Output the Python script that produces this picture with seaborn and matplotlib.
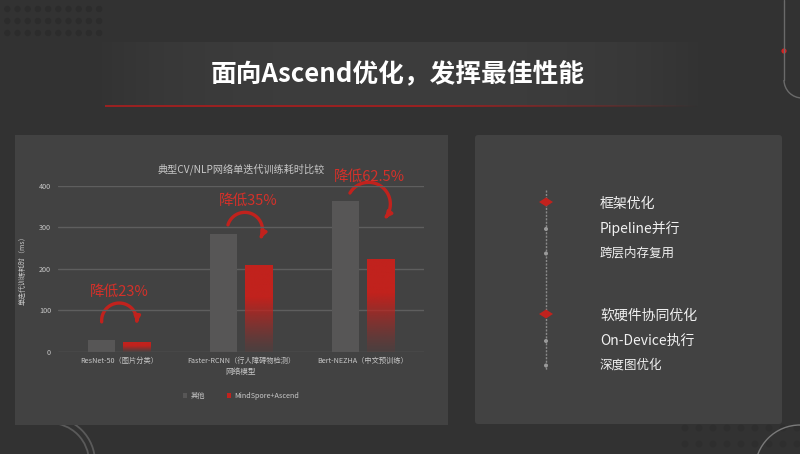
import numpy as np
import pandas as pd
import matplotlib.pyplot as plt
import seaborn as sns
from matplotlib.patches import Rectangle, FancyBboxPatch, Polygon, Circle, Arc, FancyArrowPatch
from matplotlib.path import Path

sns.set_theme(style="dark")
plt.rcParams['font.family'] = ['Noto Sans CJK SC', 'DejaVu Sans']
plt.rcParams['axes.unicode_minus'] = False

# data
models = ["ResNet-50（图片分类）", "Faster-RCNN（行人障碍物检测）", "Bert-NEZHA（中文预训练）"]
series = ["其他", "MindSpore+Ascend"]
other_ms = [28, 285, 364]
ascend_ms = [22, 208, 224]
cuts = ["降低23%", "降低35%", "降低62.5%"]
yticks = [0, 100, 200, 300, 400]

# right panel bullet list
groups = ["框架优化", "软硬件协同优化"]
items = [["Pipeline并行", "跨层内存复用"], ["On-Device执行", "深度图优化"]]

SLIDE = "#323232"
PANEL = "#424242"
GRAY = "#575656"
RED = "#c1221d"
TXT = "#c8c8c8"

fig = plt.figure(figsize=(8, 4.54), dpi=100)
fig.patch.set_facecolor(SLIDE)

# background layer in pixel coords
bg = fig.add_axes([0, 0, 1, 1])
bg.set_xlim(0, 800)
bg.set_ylim(454, 0)
bg.axis("off")

# dot decorations
for r in range(3):
    for c in range(10):
        bg.add_patch(Circle((7.3 + c * 10.2, 9 + r * 12), 3.2, color="#2c2c2c", lw=0))
for r in range(2):
    for c in range(9):
        bg.add_patch(Circle((685 + c * 14, 428 + r * 16), 3.5, color="#2e2e2e", lw=0))

# arcs / lines around the edges
bg.add_patch(Arc((50, 462), 78, 78, theta1=270, theta2=360, color="#5a5a5a", lw=1.3))
bg.add_patch(Arc((50, 462), 90, 90, theta1=270, theta2=360, color="#5a5a5a", lw=1.3))
bg.add_patch(Arc((800, 470), 90, 90, theta1=180, theta2=270, color="#7a7a7a", lw=1.0))
bg.plot([784, 784], [0, 80], color="#6a6a6a", lw=1.0)
bg.add_patch(Arc((802, 80), 36, 36, theta1=90, theta2=180, color="#6a6a6a", lw=1.0))
bg.add_patch(Circle((784, 51), 2.6, color="#d42020", lw=0))

# title banner
band = np.ones((1, 200, 4))
band[..., :3] = np.array([0.27, 0.27, 0.27])
xs = np.linspace(-1, 1, 200)
band[0, :, 3] = np.clip(1 - np.abs(xs) ** 3, 0, 1) * 0.6
bg.imshow(band, extent=(90, 710, 106, 42), aspect="auto", zorder=1)
line = np.ones((1, 200, 4))
line[..., :3] = np.array([0.60, 0.13, 0.13])
line[0, :, 3] = np.clip((1 - np.linspace(0, 1, 200)) * 2.2, 0, 1)
bg.imshow(line, extent=(105, 700, 107.5, 105.5), aspect="auto", zorder=2)
bg.text(398, 74, "面向Ascend优化，发挥最佳性能", color="white", fontsize=18.5,
        fontweight="bold", ha="center", va="center", zorder=3)

# panels
bg.add_patch(Rectangle((15, 135), 432.7, 290, color=PANEL, lw=0, zorder=1))
bg.add_patch(FancyBboxPatch((475, 135), 307, 289, boxstyle="round,pad=0,rounding_size=3",
                            color=PANEL, lw=0, zorder=1))

# right panel timeline
bg.plot([546, 546], [190, 370], color="#8a8a8a", lw=1.0, ls=(0, (1.5, 1)), zorder=2)
y = 204
for g, subs in zip(groups, items):
    bg.add_patch(Polygon([(539, y - 2), (546, y - 6.5), (553, y - 2), (546, y + 2.5)],
                         closed=True, color=RED, lw=0, zorder=3))
    bg.text(600, y, g, color="#f0f0f0", fontsize=10, va="center", ha="left", zorder=3)
    for k, s in enumerate(subs):
        yy = y + 25 + k * 24.5
        bg.add_patch(Circle((546, yy), 2.0, color="#9a9a9a", lw=0, zorder=3))
        bg.text(600, yy, s, color="#f0f0f0", fontsize=10 if k == 0 else 9,
                va="center", ha="left", zorder=3)
    y += 112

# chart
df = pd.DataFrame({
    "model": models * 2,
    "series": [series[0]] * 3 + [series[1]] * 3,
    "time": other_ms + ascend_ms,
})

ax = fig.add_axes([58 / 800, (454 - 351.7) / 454, 366 / 800, (351.7 - 186) / 454])
ax.set_facecolor("none")
sns.barplot(data=df, x="model", y="time", hue="series", palette=[GRAY, RED],
            width=0.57, gap=0.22, saturation=1, linewidth=0, edgecolor="none",
            ax=ax, zorder=2)

# red bars fade out toward the baseline
for bar in ax.containers[1]:
    x0, w, h = bar.get_x(), bar.get_width(), bar.get_height()
    grad = np.ones((100, 1, 4))
    grad[..., :3] = np.array([0xc1, 0x22, 0x1d]) / 255
    t = np.linspace(1, 0, 100)
    grad[:, 0, 3] = np.clip(0.08 + 1.6 * t ** 1.2, 0, 1)
    ax.imshow(grad, extent=(x0, x0 + w, 0, h), aspect="auto", zorder=3)
    bar.set_alpha(0)

ax.set_xlim(-0.5, 2.5)
ax.set_ylim(0, 400)
ax.set_yticks(yticks)
ax.set_yticklabels([str(v) for v in yticks])
ax.set_axisbelow(True)
ax.yaxis.grid(True, color="#5e5e5e", lw=1.0)
ax.xaxis.grid(False)
for s in ax.spines.values():
    s.set_visible(False)
ax.tick_params(axis="both", length=0, labelsize=5.2, labelcolor=TXT)
ax.tick_params(axis="y", pad=5)
ax.tick_params(axis="x", pad=4)
ax.set_xlabel("网络模型", fontsize=5.5, color=TXT, labelpad=2)
ax.set_ylabel("单迭代训练耗时（ms）", fontsize=5, color=TXT, labelpad=9)
ax.set_title("典型CV/NLP网络单迭代训练耗时比较", fontsize=7.3, color=TXT, pad=10)

ax.legend(loc="center", bbox_to_anchor=(0.5, -0.267), ncol=2, frameon=False,
          fontsize=5.2, labelcolor=TXT, handlelength=0.6, handleheight=0.6,
          handletextpad=0.5, columnspacing=3)


def to_px(pt):
    # chart data coords -> background pixel coords
    disp = ax.transData.transform(pt)
    return bg.transData.inverted().transform(disp)


def arc_path(p0, p1, bulge=0.55, n=40):
    # circular arc from p0 to p1 bowing upwards (pixel coords, y down)
    p0, p1 = np.asarray(p0), np.asarray(p1)
    d = p1 - p0
    c = np.hypot(*d)
    nrm = np.array([d[1], -d[0]]) / c
    s = bulge * c
    R = (c * c / 4 + s * s) / (2 * s)
    mid = (p0 + p1) / 2
    ctr = mid + nrm * (s - R)
    peak = mid + nrm * s
    a0 = np.arctan2(*(p0 - ctr)[::-1])
    a1 = np.arctan2(*(p1 - ctr)[::-1])
    ap = np.arctan2(*(peak - ctr)[::-1])
    # choose the direction that passes the peak
    da = (a1 - a0) % (2 * np.pi)
    dp = (ap - a0) % (2 * np.pi)
    if dp > da:
        da -= 2 * np.pi
    ang = a0 + np.linspace(0, da, n)
    return ctr[0] + R * np.cos(ang), ctr[1] + R * np.sin(ang)


# reduction callouts
label_xy = [(0.0, 144), (1.057, 364), (2.05, 421)]
arrow_from = [(-0.142, 72), (0.893, 306), (1.893, 383)]
arrow_to = [(0.145, 70), (1.16, 274), (2.18, 322)]
for txt, lxy, a0, a1 in zip(cuts, label_xy, arrow_from, arrow_to):
    ax.text(lxy[0], lxy[1], txt, color="#d3312a", fontsize=10.5, ha="center",
            va="center", clip_on=False, zorder=5)
    xs_, ys_ = arc_path(to_px(a0), to_px(a1))
    path = Path(np.column_stack([xs_, ys_]))
    bg.add_patch(FancyArrowPatch(path=path, arrowstyle="-|>", mutation_scale=8,
                                 color=RED, lw=2.4, zorder=6))

fig.savefig("out.png", dpi=100, facecolor=fig.get_facecolor())
